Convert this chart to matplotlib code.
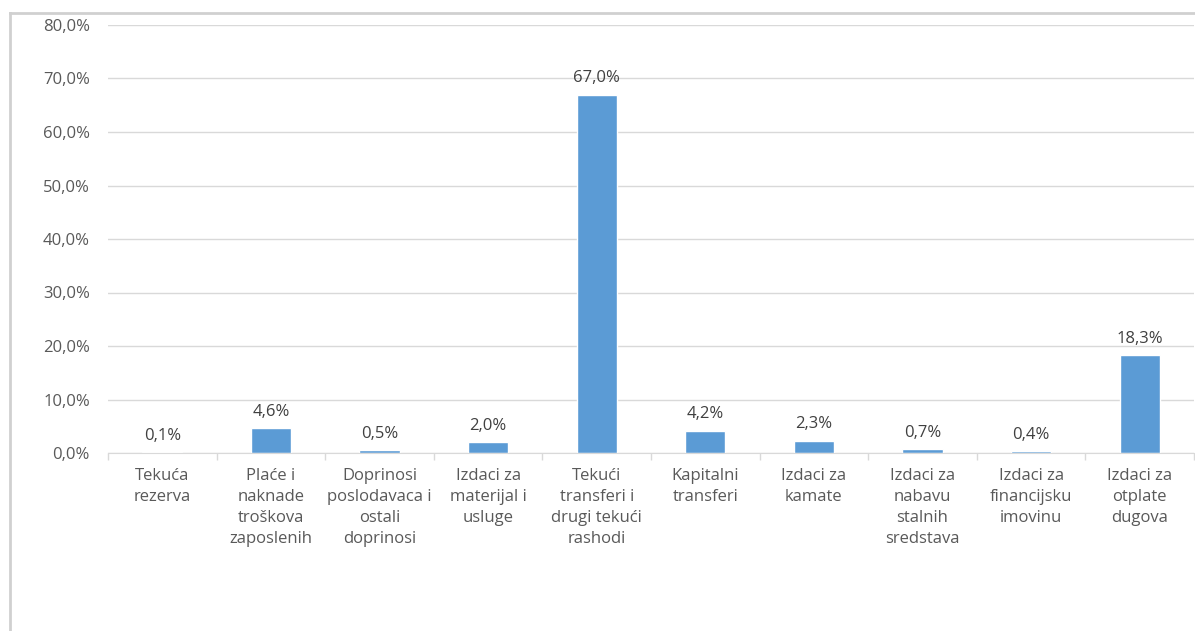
import numpy as np
from matplotlib import pyplot as plt
from matplotlib.lines import Line2D
from matplotlib.ticker import FuncFormatter, MultipleLocator

categories = [
    "Tekuća\nrezerva",
    "Plaće i\nnaknade\ntroškova\nzaposlenih",
    "Doprinosi\nposlodavaca i\nostali\ndoprinosi",
    "Izdaci za\nmaterijal i\nusluge",
    "Tekući\ntransferi i\ndrugi tekući\nrashodi",
    "Kapitalni\ntransferi",
    "Izdaci za\nkamate",
    "Izdaci za\nnabavu\nstalnih\nsredstava",
    "Izdaci za\nfinancijsku\nimovinu",
    "Izdaci za\notplate\ndugova",
]
shares = [0.1, 4.6, 0.5, 2.0, 67.0, 4.2, 2.3, 0.7, 0.4, 18.3]

bar_color = "#5B9BD5"
text_color = "#595959"
grid_color = "#D9D9D9"


def fmt_pct(v, _=None):
    return f"{v:.1f}%".replace(".", ",")


def main():
    plt.rcParams["font.family"] = ["Open Sans", "DejaVu Sans"]
    fig = plt.figure(figsize=(11.95, 6.31), dpi=100)
    ax = fig.add_axes([108 / 1195, 178 / 631, 1086 / 1195, 428 / 631])

    xs = np.arange(len(categories))
    ax.bar(xs, shares, width=0.37, color=bar_color, edgecolor="white",
           linewidth=1, zorder=3)

    for x, v in zip(xs, shares):
        ax.annotate(fmt_pct(v), (x, v), xytext=(0, 6), textcoords="offset points",
                    ha="center", va="bottom", fontsize=12, color="#404040",
                    zorder=4)

    ax.set_xlim(-0.5, len(categories) - 0.5)
    ax.set_ylim(0, 80)
    ax.yaxis.set_major_locator(MultipleLocator(10))
    ax.yaxis.set_major_formatter(FuncFormatter(fmt_pct))
    ax.grid(axis="y", color=grid_color, linewidth=1, zorder=0)

    ax.set_xticks(xs)
    ax.set_xticklabels(categories, fontsize=12, color=text_color,
                       linespacing=1.42, va="top")
    ax.set_xticks(np.arange(len(categories) + 1) - 0.5, minor=True)
    ax.tick_params(axis="x", which="major", length=0, pad=11)
    ax.tick_params(axis="x", which="minor", length=5, color=grid_color, width=1)
    ax.tick_params(axis="y", length=0, pad=13, labelsize=12, labelcolor=text_color)

    for side in ("top", "right", "left"):
        ax.spines[side].set_visible(False)
    ax.spines["bottom"].set_color(grid_color)
    ax.spines["bottom"].set_zorder(5)

    # frame remnants of the screenshot
    fig.add_artist(Line2D([10 / 1195, 10 / 1195], [0, 1 - 13 / 631],
                          transform=fig.transFigure, color="#D0D0D0", linewidth=2))
    fig.add_artist(Line2D([10 / 1195, 1], [1 - 13 / 631, 1 - 13 / 631],
                          transform=fig.transFigure, color="#D0D0D0", linewidth=2))

    fig.savefig("out.png", dpi=100)
    plt.close()


if __name__ == "__main__":
    main()
